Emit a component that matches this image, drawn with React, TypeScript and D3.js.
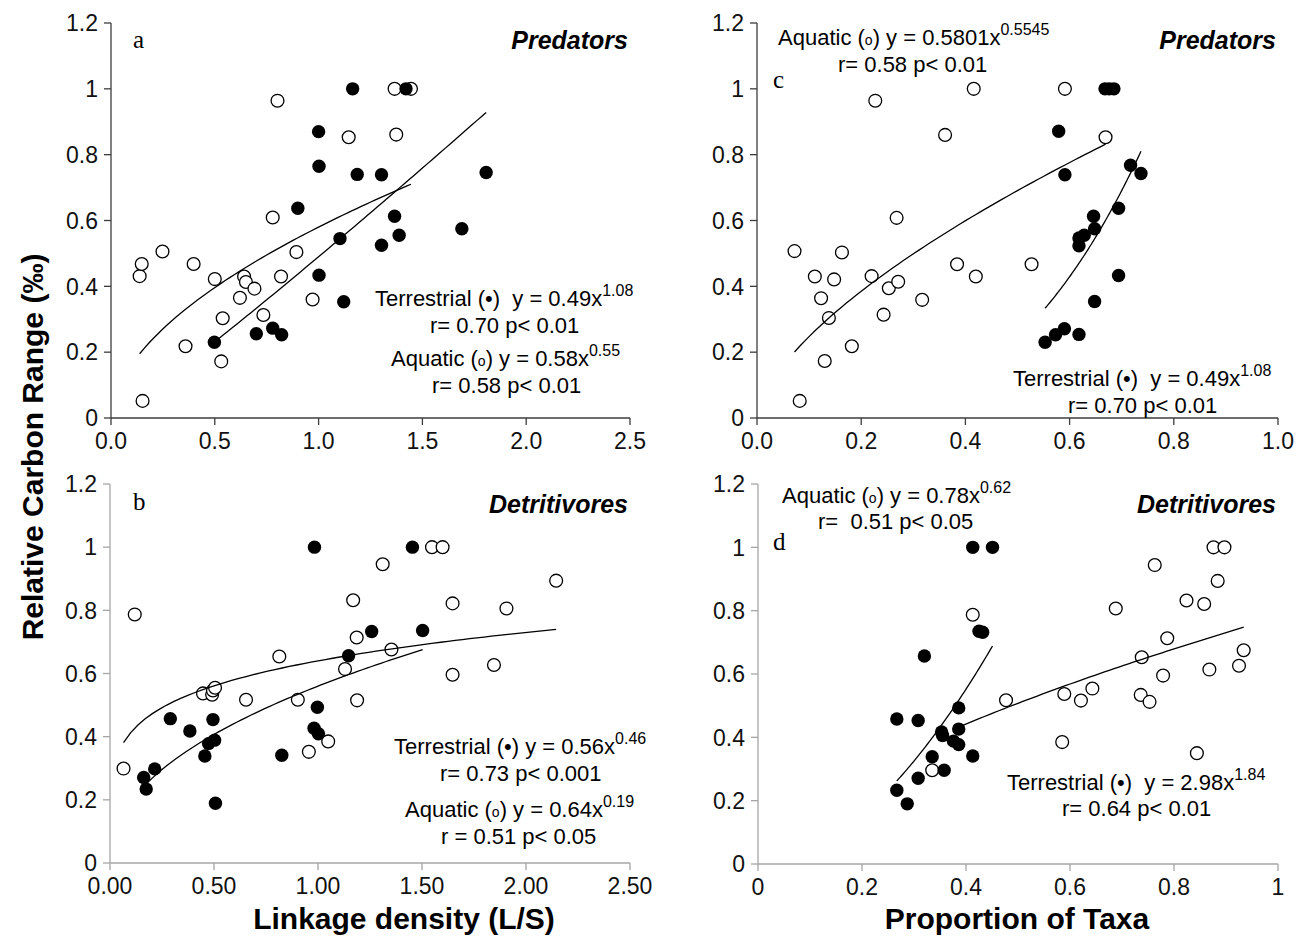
import React from "react";
import * as d3 from "d3";

// ---- data: [x, relative carbon range] ----
// a: predators vs linkage density
const predLinkAquatic: [number, number][] = [
  [0.152, 0.052], [0.138, 0.431], [0.148, 0.468], [0.248, 0.506], [0.359, 0.218], [0.398, 0.468],
  [0.5, 0.422], [0.531, 0.172], [0.538, 0.303], [0.621, 0.365], [0.641, 0.43], [0.65, 0.413],
  [0.691, 0.393], [0.734, 0.313], [0.779, 0.609], [0.802, 0.964], [0.819, 0.43], [0.893, 0.504],
  [0.971, 0.36], [1.145, 0.853], [1.366, 1.0], [1.374, 0.861], [1.445, 1.0],
];
const predLinkTerrestrial: [number, number][] = [
  [0.498, 0.23], [0.7, 0.256], [0.779, 0.273], [0.822, 0.253], [0.9, 0.637], [1.0, 0.87],
  [1.002, 0.765], [1.002, 0.434], [1.103, 0.545], [1.121, 0.353], [1.164, 1.0], [1.186, 0.74],
  [1.303, 0.739], [1.303, 0.525], [1.366, 0.613], [1.388, 0.555], [1.421, 1.0], [1.69, 0.575],
  [1.807, 0.746],
];

// c: predators vs proportion of taxa
const predPropAquatic: [number, number][] = [
  [0.072, 0.507], [0.082, 0.052], [0.111, 0.43], [0.123, 0.364], [0.13, 0.173], [0.138, 0.304],
  [0.148, 0.421], [0.163, 0.503], [0.182, 0.218], [0.22, 0.431], [0.227, 0.964], [0.243, 0.314],
  [0.253, 0.394], [0.268, 0.608], [0.271, 0.414], [0.317, 0.359], [0.361, 0.86], [0.384, 0.467],
  [0.416, 1.0], [0.42, 0.43], [0.527, 0.467], [0.591, 1.0], [0.669, 0.853],
];
const predPropTerrestrial: [number, number][] = [
  [0.553, 0.23], [0.573, 0.253], [0.59, 0.271], [0.618, 0.254], [0.579, 0.871], [0.591, 0.739],
  [0.618, 0.523], [0.618, 0.547], [0.628, 0.555], [0.646, 0.613], [0.648, 0.575], [0.648, 0.354],
  [0.668, 1.0], [0.676, 1.0], [0.685, 1.0], [0.694, 0.637], [0.694, 0.433], [0.717, 0.768],
  [0.737, 0.743],
];

// b: detritivores vs linkage density
const detLinkAquatic: [number, number][] = [
  [0.065, 0.299], [0.119, 0.787], [0.447, 0.537], [0.491, 0.533], [0.495, 0.546], [0.505, 0.555],
  [0.654, 0.517], [0.814, 0.654], [0.903, 0.517], [0.956, 0.352], [1.049, 0.385], [1.13, 0.614],
  [1.169, 0.832], [1.186, 0.714], [1.188, 0.515], [1.311, 0.946], [1.353, 0.676], [1.548, 1.0],
  [1.599, 1.0], [1.647, 0.822], [1.647, 0.596], [1.846, 0.627], [1.906, 0.806], [2.145, 0.894],
];
const detLinkTerrestrial: [number, number][] = [
  [0.162, 0.271], [0.174, 0.234], [0.215, 0.298], [0.29, 0.457], [0.384, 0.418], [0.456, 0.339],
  [0.474, 0.378], [0.495, 0.454], [0.503, 0.389], [0.507, 0.189], [0.826, 0.341], [0.983, 1.0],
  [0.981, 0.427], [0.997, 0.493], [1.002, 0.409], [1.147, 0.656], [1.258, 0.733], [1.454, 1.0],
  [1.503, 0.736],
];

// d: detritivores vs proportion of taxa
const detPropAquatic: [number, number][] = [
  [0.335, 0.296], [0.413, 0.787], [0.477, 0.517], [0.585, 0.385], [0.589, 0.537], [0.621, 0.516],
  [0.643, 0.554], [0.688, 0.807], [0.736, 0.534], [0.738, 0.653], [0.753, 0.512], [0.763, 0.944],
  [0.779, 0.595], [0.787, 0.713], [0.824, 0.832], [0.844, 0.35], [0.858, 0.821], [0.868, 0.614],
  [0.876, 1.0], [0.884, 0.894], [0.897, 1.0], [0.925, 0.626], [0.934, 0.675],
];
const detPropTerrestrial: [number, number][] = [
  [0.267, 0.458], [0.267, 0.233], [0.287, 0.19], [0.308, 0.453], [0.308, 0.271], [0.32, 0.657],
  [0.335, 0.339], [0.353, 0.417], [0.355, 0.406], [0.358, 0.296], [0.376, 0.388], [0.386, 0.493],
  [0.386, 0.426], [0.386, 0.377], [0.413, 1.0], [0.413, 0.341], [0.425, 0.735], [0.432, 0.732],
  [0.451, 1.0],
];

// power trendlines y = a * x^b over [from, to]
const predLinkFits = [{ a: 0.58, b: 0.55, from: 0.138, to: 1.445 }, { a: 0.49, b: 1.08, from: 0.498, to: 1.807 }];
const predPropFits = [{ a: 1.075, b: 0.638, from: 0.072, to: 0.669 }, { a: 2.08, b: 3.09, from: 0.553, to: 0.737 }];
const detLinkFits = [{ a: 0.64, b: 0.19, from: 0.065, to: 2.145 }, { a: 0.56, b: 0.46, from: 0.162, to: 1.503 }];
const detPropFits = [{ a: 0.78, b: 0.62, from: 0.38, to: 0.934 }, { a: 2.98, b: 1.84, from: 0.267, to: 0.451 }];

const yTicks = [0, 0.2, 0.4, 0.6, 0.8, 1, 1.2];
const linkTicks = [0, 0.5, 1, 1.5, 2, 2.5];
const propTicks = [0, 0.2, 0.4, 0.6, 0.8, 1];

const FONT = "'Liberation Sans', Arial, sans-serif";

type Note = { x: number; y: number; text: string; sup?: string };

const panels = [
  {
    letter: "a", title: "Predators", left: 111, right: 630, top: 23, bottom: 418,
    xDomain: [0, 2.5], xTicks: linkTicks, xFmt: d3.format(".1f"), axis: "#3c3c3c",
    open: predLinkAquatic, filled: predLinkTerrestrial, fits: predLinkFits,
    letterAt: [133, 48], titleY: 49,
    notes: [
      { x: 375, y: 306, text: "Terrestrial (•)  y = 0.49x", sup: "1.08" },
      { x: 430, y: 333, text: "r= 0.70 p< 0.01" },
      { x: 391, y: 366, text: "Aquatic (ₒ) y = 0.58x", sup: "0.55" },
      { x: 432, y: 393, text: "r= 0.58 p< 0.01" },
    ] as Note[],
  },
  {
    letter: "c", title: "Predators", left: 757, right: 1278, top: 23, bottom: 418,
    xDomain: [0, 1], xTicks: propTicks, xFmt: d3.format(".1f"), axis: "#3c3c3c",
    open: predPropAquatic, filled: predPropTerrestrial, fits: predPropFits,
    letterAt: [773, 88], titleY: 49,
    notes: [
      { x: 778, y: 45, text: "Aquatic (ₒ) y = 0.5801x", sup: "0.5545" },
      { x: 838, y: 72, text: "r= 0.58 p< 0.01" },
      { x: 1013, y: 386, text: "Terrestrial (•)  y = 0.49x", sup: "1.08" },
      { x: 1068, y: 413, text: "r= 0.70 p< 0.01" },
    ] as Note[],
  },
  {
    letter: "b", title: "Detritivores", left: 110, right: 630, top: 484, bottom: 863,
    xDomain: [0, 2.5], xTicks: linkTicks, xFmt: d3.format(".2f"), axis: "#a6a6a6",
    open: detLinkAquatic, filled: detLinkTerrestrial, fits: detLinkFits,
    letterAt: [133, 510], titleY: 513,
    notes: [
      { x: 394, y: 754, text: "Terrestrial (•) y = 0.56x", sup: "0.46" },
      { x: 440, y: 781, text: "r= 0.73 p< 0.001" },
      { x: 405, y: 817, text: "Aquatic (ₒ) y = 0.64x", sup: "0.19" },
      { x: 441, y: 844, text: "r = 0.51 p< 0.05" },
    ] as Note[],
  },
  {
    letter: "d", title: "Detritivores", left: 758, right: 1278, top: 484, bottom: 864,
    xDomain: [0, 1], xTicks: propTicks, xFmt: d3.format(""), axis: "#a6a6a6",
    open: detPropAquatic, filled: detPropTerrestrial, fits: detPropFits,
    letterAt: [773, 550], titleY: 513,
    notes: [
      { x: 782, y: 503, text: "Aquatic (ₒ) y = 0.78x", sup: "0.62" },
      { x: 818, y: 529, text: "r=  0.51 p< 0.05" },
      { x: 1007, y: 790, text: "Terrestrial (•)  y = 2.98x", sup: "1.84" },
      { x: 1062, y: 816, text: "r= 0.64 p< 0.01" },
    ] as Note[],
  },
];

function NoteText({ n }: { n: Note }) {
  const [pre, post] = n.text.split("ₒ");
  return (
    <text x={n.x} y={n.y} fontSize={22} style={{ whiteSpace: "pre" }}>
      {pre}
      {post !== undefined && <tspan fontSize={14}>o</tspan>}
      {post}
      {n.sup && <tspan fontSize={16} dy={-10}>{n.sup}</tspan>}
    </text>
  );
}

function Panel({ p }: { p: typeof panels[number] }) {
  const x = d3.scaleLinear().domain(p.xDomain).range([p.left, p.right]);
  const y = d3.scaleLinear().domain([0, 1.2]).range([p.bottom, p.top]);
  const line = d3.line<[number, number]>().x(d => x(d[0])).y(d => y(d[1]));

  return (
    <g fontFamily={FONT}>
      {/* axes */}
      <line x1={p.left} x2={p.left} y1={p.top} y2={p.bottom} stroke={p.axis} strokeWidth={1.3} />
      <line x1={p.left} x2={p.right} y1={p.bottom} y2={p.bottom} stroke={p.axis} strokeWidth={1.3} />
      {yTicks.map(t => (
        <g key={"y" + t}>
          <line x1={p.left - 7} x2={p.left} y1={y(t)} y2={y(t)} stroke={p.axis} strokeWidth={1.3} />
          <text x={p.left - 13} y={y(t)} dy="0.36em" textAnchor="end" fontSize={23} fill="#111">{t}</text>
        </g>
      ))}
      {p.xTicks.map(t => (
        <g key={"x" + t}>
          <line x1={x(t)} x2={x(t)} y1={p.bottom} y2={p.bottom + 7} stroke={p.axis} strokeWidth={1.3} />
          <text x={x(t)} y={p.bottom + 31} textAnchor="middle" fontSize={23} fill="#111">{p.xFmt(t)}</text>
        </g>
      ))}

      {/* points */}
      {p.open.map((d, i) => (
        <circle key={"o" + i} cx={x(d[0])} cy={y(d[1])} r={6.4} fill="#fff" stroke="#000" strokeWidth={1.3} />
      ))}
      {p.filled.map((d, i) => (
        <circle key={"f" + i} cx={x(d[0])} cy={y(d[1])} r={6.7} fill="#000" />
      ))}

      {/* trendlines */}
      {p.fits.map((f, i) => {
        const pts = d3.range(0, 61).map(k => {
          const xv = f.from + ((f.to - f.from) * k) / 60;
          return [xv, f.a * Math.pow(xv, f.b)] as [number, number];
        });
        return <path key={"fit" + i} d={line(pts) || ""} fill="none" stroke="#000" strokeWidth={1.3} />;
      })}

      {/* labels */}
      <text x={p.letterAt[0]} y={p.letterAt[1]} fontFamily="'Liberation Serif', 'Times New Roman', serif" fontSize={25}>{p.letter}</text>
      <text x={p.right - 2} y={p.titleY} textAnchor="end" fontSize={25} fontWeight="bold" fontStyle="italic">{p.title}</text>
      {p.notes.map((n, i) => <NoteText key={i} n={n} />)}
    </g>
  );
}

export default function App() {
  return (
    <svg width={1301} height={936} style={{ position: "absolute", left: 0, top: 0, background: "#fff" }}>
      <rect width={1301} height={936} fill="#fff" />
      {panels.map(p => <Panel key={p.letter} p={p} />)}
      <text transform="translate(43,447) rotate(-90)" textAnchor="middle" fontFamily={FONT} fontWeight="bold" fontSize={30}>
        Relative Carbon Range (‰)
      </text>
      <text x={404} y={929} textAnchor="middle" fontFamily={FONT} fontWeight="bold" fontSize={30}>Linkage density (L/S)</text>
      <text x={1017} y={929} textAnchor="middle" fontFamily={FONT} fontWeight="bold" fontSize={30}>Proportion of Taxa</text>
    </svg>
  );
}
